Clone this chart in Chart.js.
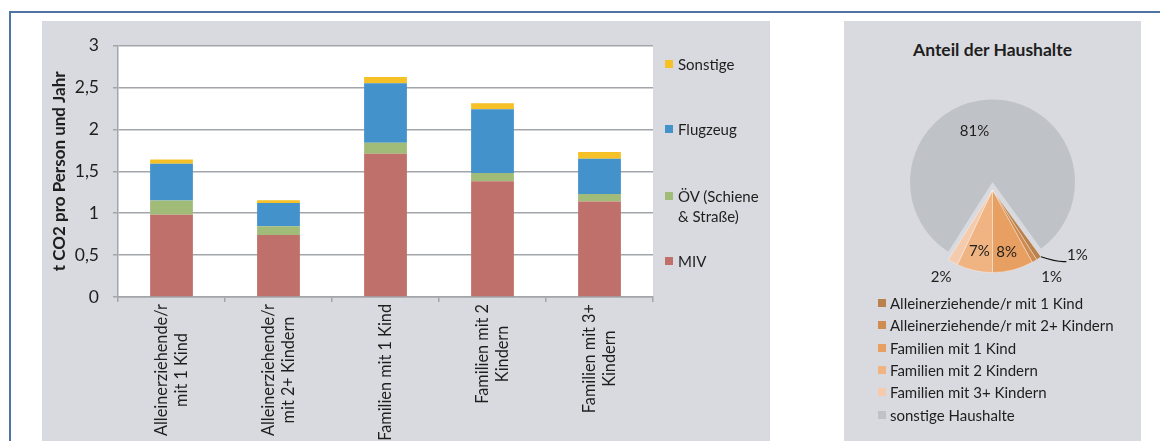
<!DOCTYPE html>
<html><head><meta charset="utf-8">
<script src="https://cdn.jsdelivr.net/npm/chart.js@4.4.1/dist/chart.umd.min.js"></script>
<style>
html,body{margin:0;padding:0;background:#fff;width:1160px;height:441px;overflow:hidden;font-family:Lato,sans-serif;color:#1e1e1e;}
#frame{position:absolute;left:9px;top:11px;width:1200px;height:500px;border-left:2px solid #4f73a3;border-top:2px solid #4f73a3;}
.panel{position:absolute;background:#d9dadf;}
#barPanel{left:42px;top:21px;width:728px;height:420px;}
#piePanel{left:844px;top:21px;width:297px;height:420px;}
canvas{position:absolute;left:0;top:0;}
.item{position:absolute;font-size:15px;line-height:20px;}
.sw{position:absolute;width:8px;height:8px;}
#pieTitle{position:absolute;left:0;width:297px;top:18px;text-align:center;font-weight:bold;font-size:17.5px;line-height:22px;}
</style></head><body>
<div id="frame"></div>
<div id="barPanel" class="panel"><canvas id="bar" width="728" height="420"></canvas><div id="barLegend"></div></div>
<div id="piePanel" class="panel"><div id="pieTitle"></div><canvas id="pie" width="297" height="420"></canvas><div id="pieLegend"></div></div>
<script>
// ---- data ----
const categories = [["Alleinerziehende/r","mit 1 Kind"],["Alleinerziehende/r","mit 2+ Kindern"],["Familien mit 1 Kind"],["Familien mit 2","Kindern"],["Familien mit 3+","Kindern"]];
const seriesNames = ["MIV","ÖV (Schiene & Straße)","Flugzeug","Sonstige"];
const miv      = [0.98, 0.74, 1.71, 1.38, 1.14];
const oev      = [0.17, 0.105, 0.13, 0.10, 0.09];
const flugzeug = [0.44, 0.275, 0.71, 0.76, 0.42];
const sonstige = [0.05, 0.035, 0.075, 0.07, 0.08];
const yTicks = [0, 0.5, 1, 1.5, 2, 2.5, 3];
const yTickLabels = ["0","0,5","1","1,5","2","2,5","3"];
const yTitle = "t CO2 pro Person und Jahr";
const pieTitle = "Anteil der Haushalte";
const pieLabels = ["Alleinerziehende/r mit 1 Kind","Alleinerziehende/r mit 2+ Kindern","Familien mit 1 Kind","Familien mit 2 Kindern","Familien mit 3+ Kindern","sonstige Haushalte"];
const pieValues = [1, 1, 8, 7, 2, 81];

// ---- styles ----
const seriesColors = ["#c0706a","#a0bc78","#4392cc","#f5c126"];
const pieColors = ["#b9814b","#cf8b50","#e8a062","#f0b382","#f5cbae","#bfc3c8"];
const gridColor = "#a2a5a9";
const textColor = "#1e1e1e";
const barLegendCenters = [239.5, 174.5, 107.5, 42.5]; // per series, in panel px
const pieExplode = [8,8,8,8,8,0];
const pieLabelStyle = [{f:1.30,da:-18.1,leader:true},{f:1.28,da:-3.5},{f:0.77,da:1.5},{f:0.76,da:-0.6},{f:1.23,da:1.6},{f:0.655,da:-17.6}];

document.getElementById('pieTitle').textContent = pieTitle;

// bar legend
const bl = document.getElementById('barLegend');
seriesNames.forEach((n,i)=>{
  const c = barLegendCenters[i];
  const sw = document.createElement('div'); sw.className='sw';
  sw.style.left='623px'; sw.style.top=(c-4)+'px'; sw.style.background=seriesColors[i];
  const t = document.createElement('div'); t.className='item';
  t.style.left='636px'; t.style.top=(c-10)+'px'; t.style.width='88px'; t.textContent=n;
  bl.appendChild(sw); bl.appendChild(t);
});
// pie legend
const pl = document.getElementById('pieLegend');
pieLabels.forEach((n,i)=>{
  const c = 281.7 + i*22.4;
  const sw = document.createElement('div'); sw.className='sw';
  sw.style.left='34px'; sw.style.top=(c-4)+'px'; sw.style.background=pieColors[i];
  const t = document.createElement('div'); t.className='item';
  t.style.left='46px'; t.style.top=(c-10)+'px'; t.style.whiteSpace='nowrap'; t.textContent=n;
  pl.appendChild(sw); pl.appendChild(t);
});

const bgPlugin = {id:'plotBg', beforeDraw(chart){
  const a = chart.chartArea, ctx = chart.ctx;
  ctx.save(); ctx.fillStyle='#fff'; ctx.fillRect(a.left, a.top, a.right-a.left, a.bottom-a.top); ctx.restore();
}};
const xLabelPlugin = {id:'xLabels', afterDraw(chart){
  const xs = chart.scales.x, ctx = chart.ctx;
  ctx.save();
  ctx.font = '16.3px Lato'; ctx.fillStyle = textColor;
  ctx.textAlign='center'; ctx.textBaseline='middle';
  const lh = 20.4;
  categories.forEach((lines,i)=>{
    const x = xs.getPixelForTick(i);
    const w = Math.max(...lines.map(l=>ctx.measureText(l).width));
    ctx.save();
    ctx.translate(x, xs.top + 7);
    ctx.rotate(-Math.PI/2);
    lines.forEach((l,j)=>{ ctx.fillText(l, -w/2, (j-(lines.length-1)/2)*lh); });
    ctx.restore();
  });
  ctx.restore();
}};

new Chart(document.getElementById('bar'), {
  type:'bar',
  data:{labels: categories.map(c=>c.join(' ')), datasets:[
    {label:seriesNames[0], data:miv, backgroundColor:seriesColors[0]},
    {label:seriesNames[1], data:oev, backgroundColor:seriesColors[1]},
    {label:seriesNames[2], data:flugzeug, backgroundColor:seriesColors[2]},
    {label:seriesNames[3], data:sonstige, backgroundColor:seriesColors[3]}
  ]},
  options:{
    responsive:false, animation:false,
    layout:{padding:{top:19,right:117,left:0,bottom:0}},
    plugins:{legend:{display:false}, tooltip:{enabled:false}},
    datasets:{bar:{categoryPercentage:1, barPercentage:0.4, borderWidth:0}},
    scales:{
      x:{stacked:true,
         grid:{drawOnChartArea:false, drawTicks:true, tickLength:5, color:gridColor, lineWidth:1.5, offset:true},
         border:{display:true, color:gridColor, width:1.5},
         ticks:{color:'rgba(0,0,0,0)', font:{size:1}, autoSkip:false, maxRotation:0},
         afterFit(s){ s.height = 144; }},
      y:{stacked:true, min:yTicks[0], max:yTicks[yTicks.length-1],
         afterBuildTicks(s){ s.ticks = yTicks.map(v=>({value:v})); },
         ticks:{padding:14, color:textColor, font:{family:'Lato', size:17.5},
                callback:(v)=>{ const k = yTicks.indexOf(v); return k>=0 ? yTickLabels[k] : ''; }},
         grid:{color:gridColor, lineWidth:1.5, tickLength:5},
         border:{display:true, color:gridColor, width:1.5},
         title:{display:true, text:yTitle, color:textColor, font:{family:'Lato', size:17, weight:'bold', lineHeight:1.2}, padding:{top:7.5,bottom:0}},
         afterFit(s){ s.width = 76; }}
    }
  },
  plugins:[bgPlugin, xLabelPlugin]
});

const explodePlugin = {id:'explode', afterDatasetsUpdate(chart){
  chart.getDatasetMeta(0).data.forEach((a,i)=>{ if (pieExplode[i]) a.y += pieExplode[i]; });
}};
const pieLabelPlugin = {id:'pieLabels', afterDraw(chart){
  const ctx = chart.ctx, meta = chart.getDatasetMeta(0);
  const total = pieValues.reduce((s,v)=>s+v,0);
  ctx.save();
  ctx.font = '15px Lato'; ctx.fillStyle = textColor; ctx.textAlign='center'; ctx.textBaseline='middle';
  meta.data.forEach((a,i)=>{
    const p = a.getProps(['x','y','startAngle','endAngle','outerRadius'], true);
    const st = pieLabelStyle[i];
    const ang = (p.startAngle+p.endAngle)/2 + st.da*Math.PI/180;
    const r = st.f*p.outerRadius;
    const tx = p.x + Math.cos(ang)*r, ty = p.y + Math.sin(ang)*r;
    ctx.fillText(Math.round(pieValues[i]/total*100)+'%', tx, ty);
    if (st.leader) {
      ctx.strokeStyle = '#111'; ctx.lineWidth = 1.2;
      ctx.beginPath();
      ctx.moveTo(p.x + Math.cos(p.startAngle)*p.outerRadius, p.y + Math.sin(p.startAngle)*p.outerRadius);
      ctx.quadraticCurveTo(tx-22, ty+6, tx-14, ty+6);
      ctx.lineTo(tx-11, ty+6);
      ctx.stroke();
    }
  });
  ctx.restore();
}};

new Chart(document.getElementById('pie'), {
  type:'pie',
  data:{labels:pieLabels, datasets:[{data:pieValues, backgroundColor:pieColors, borderColor:'rgba(255,255,255,0.35)', borderWidth:[1,1,1,1,1,0]}]},
  options:{responsive:false, animation:false, rotation:144, radius:82.5,
    layout:{padding:{top:0,bottom:98,left:0,right:0}},
    plugins:{legend:{display:false}, tooltip:{enabled:false}}},
  plugins:[explodePlugin, pieLabelPlugin]
});
</script>
</body></html>
